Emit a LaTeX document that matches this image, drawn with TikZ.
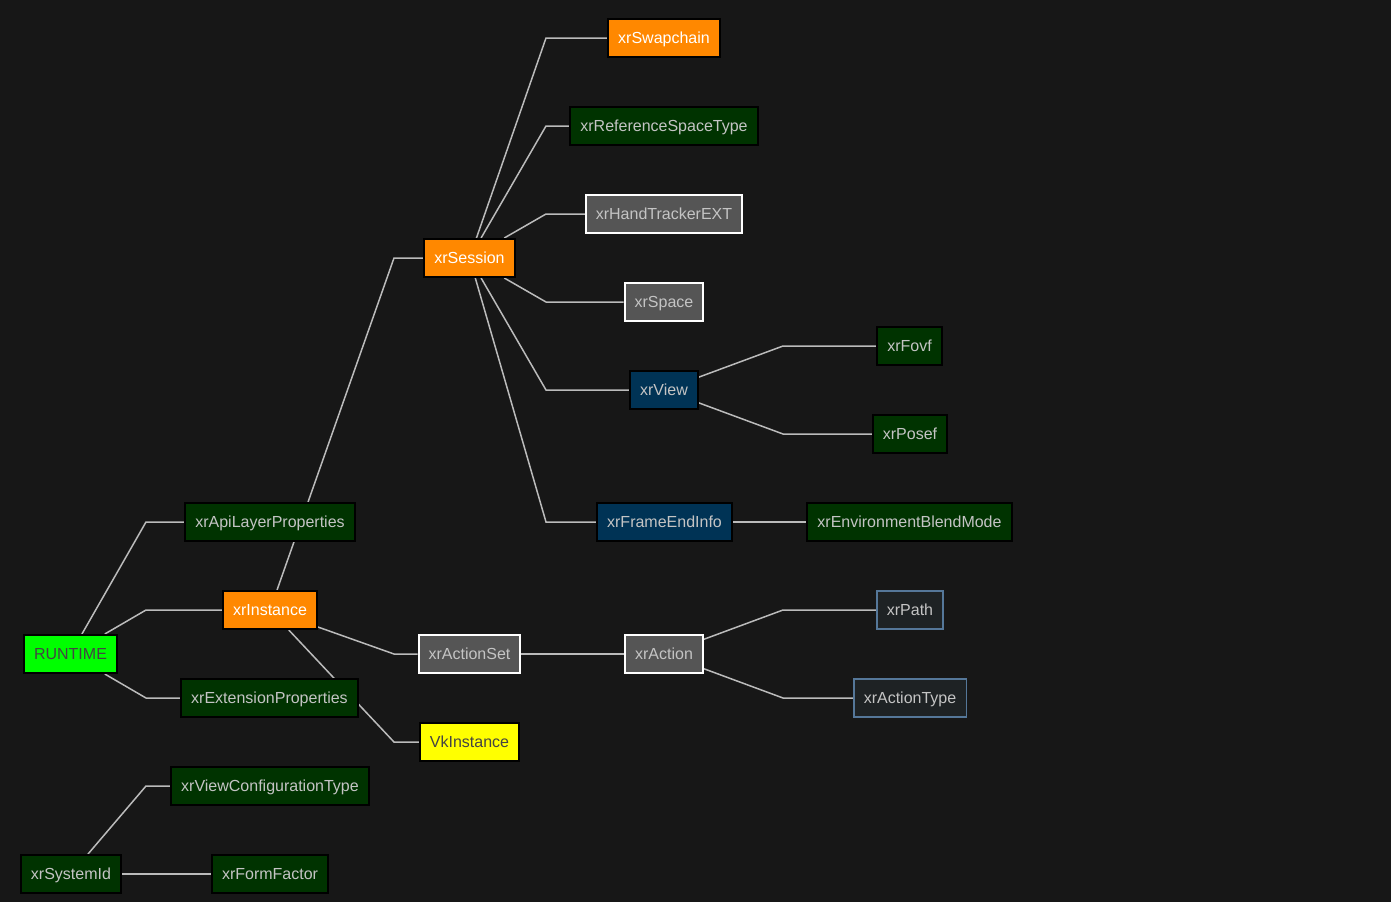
\documentclass[tikz,border=0pt]{standalone}
\usepackage{fontspec}
\setmainfont{Liberation Sans}
\usepackage{xcolor}
\usepackage{tikz}
\usetikzlibrary{positioning,backgrounds}
\definecolor{canvas}{HTML}{171717}
\definecolor{edge}{HTML}{BBBBBB}
\definecolor{rtgreen}{HTML}{00FF00}
\definecolor{rtink}{HTML}{444444}
\definecolor{orange}{HTML}{FF8800}
\definecolor{dgreen}{HTML}{003300}
\definecolor{dblue}{HTML}{003355}
\definecolor{objgray}{HTML}{555555}
\definecolor{enumfill}{HTML}{1E2224}
\definecolor{enumline}{HTML}{557799}
\definecolor{vkyellow}{HTML}{FFFF00}
\definecolor{softink}{HTML}{C4C4C4}
\newcommand{\NodeF}{\fontsize{16}{19}\selectfont}
\tikzset{
  box/.style={rectangle, minimum height=38pt, inner xsep=10pt, inner ysep=0pt,
              text height=13.5pt, text depth=3.4pt, line width=2pt, font=\NodeF},
  % node kinds
  xroot/.style={box, fill=rtgreen, draw=black, text=rtink},
  xhandle/.style={box, fill=orange, draw=black, text=white},
  xstruct/.style={box, fill=dgreen, draw=black, text=softink},
  xframe/.style={box, fill=dblue, draw=black, text=softink},
  xobject/.style={box, fill=objgray, draw=white, text=softink},
  xenum/.style={box, fill=enumfill, draw=enumline, line width=1.5pt, text=softink},
  xvk/.style={box, fill=vkyellow, draw=black, text=rtink},
  link/.style={draw=edge, line width=1.5pt},
}
\begin{document}
\begin{tikzpicture}[x=1pt,y=-1pt]
  \useasboundingbox (0,0) rectangle (1391,902);

  \node[xroot] (rt) at (70.5,654) {RUNTIME};
  \node[xstruct] (api) at (270,522) {xrApiLayerProperties};
  \node[xhandle] (inst) at (270,610) {xrInstance};
  \node[xstruct] (ext) at (269.5,698) {xrExtensionProperties};
  \node[xstruct] (vct) at (270,786) {xrViewConfigurationType};
  \node[xstruct] (sys) at (71,874) {xrSystemId};
  \node[xstruct] (ff) at (270,874) {xrFormFactor};

  \node[xhandle] (ses) at (469.5,258) {xrSession};
  \node[xobject] (aset) at (469.5,654) {xrActionSet};
  \node[xvk] (vk) at (469.5,742) {VkInstance};

  \node[xhandle] (swap) at (664,38) {xrSwapchain};
  \node[xstruct] (rst) at (664,126) {xrReferenceSpaceType};
  \node[xobject] (hand) at (664,214) {xrHandTrackerEXT};
  \node[xobject] (spc) at (664,302) {xrSpace};
  \node[xframe] (view) at (664,390) {xrView};
  \node[xframe] (fei) at (664.5,522) {xrFrameEndInfo};
  \node[xobject] (act) at (664,654) {xrAction};

  \node[xstruct] (fov) at (909.5,346) {xrFovf};
  \node[xstruct] (pose) at (910,434) {xrPosef};
  \node[xstruct] (blend) at (909.5,522) {xrEnvironmentBlendMode};
  \node[xenum] (path) at (910,610) {xrPath};
  \node[xenum] (atype) at (910,698) {xrActionType};

  \begin{scope}[on background layer]
    \fill[canvas] (0,0) rectangle (1391,902);
    \draw[link] (rt) -- (146,522) -- (api);
    \draw[link] (rt) -- (146,610) -- (inst);
    \draw[link] (rt) -- (146,698) -- (ext);
    \draw[link] (sys) -- (146,786) -- (vct);
    \draw[link] (sys) -- (ff);
    \draw[link] (inst) -- (394,258) -- (ses);
    \draw[link] (inst) -- (394,654) -- (aset);
    \draw[link] (inst) -- (394,742) -- (vk);
    \draw[link] (ses) -- (546,38) -- (swap);
    \draw[link] (ses) -- (546,126) -- (rst);
    \draw[link] (ses) -- (546,214) -- (hand);
    \draw[link] (ses) -- (546,302) -- (spc);
    \draw[link] (ses) -- (546,390) -- (view);
    \draw[link] (ses) -- (546,522) -- (fei);
    \draw[link] (aset) -- (act);
    \draw[link] (fei) -- (blend);
    \draw[link] (view) -- (783,346) -- (fov);
    \draw[link] (view) -- (783,434) -- (pose);
    \draw[link] (act) -- (783,610) -- (path);
    \draw[link] (act) -- (783,698) -- (atype);
  \end{scope}
\end{tikzpicture}
\end{document}
